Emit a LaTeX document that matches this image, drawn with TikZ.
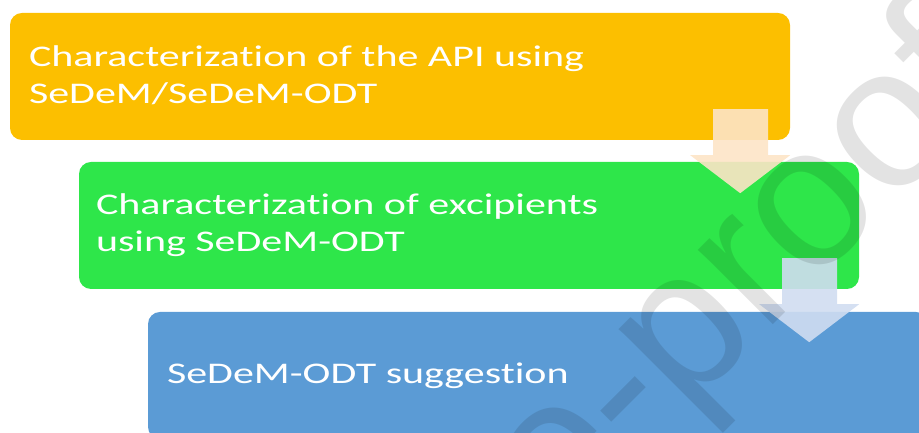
\documentclass[tikz,border=0pt]{standalone}
\usepackage{fontspec}
\setmainfont{Carlito}[FakeStretch=1.4, Ligatures=NoCommon]
\newfontfamily\wmfont{Liberation Sans}
\usetikzlibrary{calc}
\definecolor{apiorange}{RGB}{252,191,0}
\definecolor{excgreen}{RGB}{46,230,74}
\definecolor{sugblue}{RGB}{91,155,213}
\definecolor{peach}{RGB}{253,228,198}
\definecolor{paleblue}{RGB}{208,221,241}
\tikzset{stepbox/.style={rounded corners=12pt, minimum width=780pt, minimum height=127pt, inner sep=0pt},
 steptext/.style={anchor=west, inner sep=0pt, align=left, text=white, font=\fontsize{30}{37}\selectfont},
 downarrow/.style={opacity=.9},
 watermark/.style={font=\wmfont\fontsize{200}{200}\selectfont, inner sep=0pt, text=black, opacity=.11},
 }

\begin{document}
\begin{tikzpicture}[x=1pt, y=1pt]
        \useasboundingbox (0,0) rectangle (919,433);
        \clip (0,0) rectangle (919,433);
        \node[stepbox, fill=apiorange] (api) at (400,356.5) {};
        \node[stepbox, fill=excgreen] (exc) at (469,207.5) {};
        \node[stepbox, fill=sugblue] (sug) at (538,57.5) {};
        \node[steptext] (apitext) at ($(api.west)+(19,1)$) {Characterization of the API using\\SeDeM/SeDeM-ODT};
        \node[steptext] (exctext) at ($(exc.west)+(17,0)$) {Characterization of excipients\\using SeDeM-ODT};
        \node[steptext] (sugtext) at ($(sug.west)+(19,0)$) {SeDeM-ODT suggestion};
        % block arrows hanging from the lower right corners
        \foreach \b/\c in {api/peach, exc/paleblue} {
            \fill[downarrow, \c] ($(\b.south east)+(-77,31)$) -- ++(55,0) -- ++(0,-46) -- ++(22,0)
                -- ++(-50,-38) -- ++(-50,38) -- ++(23,0) -- cycle;
        }
        \node[watermark, rotate=45, anchor=base east] (wm) at (1007.5,342.5) {Journal Pre-proof};
    \end{tikzpicture}
\end{document}
